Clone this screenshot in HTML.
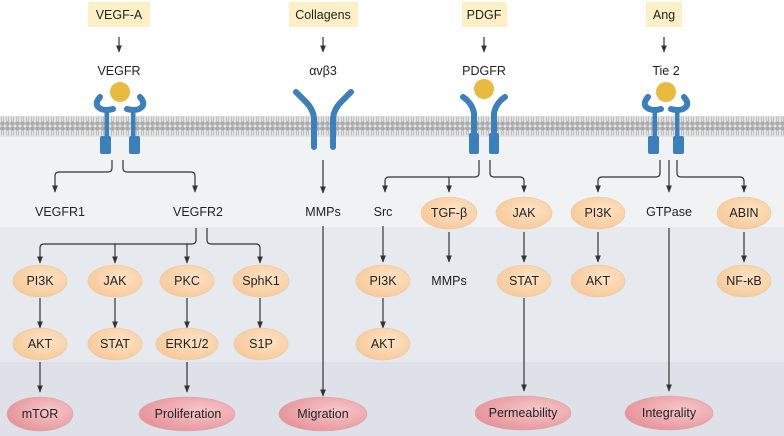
<!DOCTYPE html>
<html><head><meta charset="utf-8"><style>
html,body{margin:0;padding:0;background:#fff}
svg{display:block}
text{font-family:"Liberation Sans",sans-serif;font-size:12.5px;fill:#222;text-anchor:middle}
</style></head><body>
<svg width="784" height="436" viewBox="0 0 784 436" xmlns="http://www.w3.org/2000/svg">
<defs>
<marker id="a" viewBox="0 0 10 10" refX="9" refY="5" markerWidth="6" markerHeight="6" orient="auto"><path d="M0,1 L10,5 L0,9 z" fill="#333"/></marker>
<pattern id="mem" width="5" height="21" patternUnits="userSpaceOnUse">
<rect width="5" height="21" fill="#e4e4e4"/>
<circle cx="2.5" cy="2.5" r="2.3" fill="#a9a9a9"/>
<circle cx="2.5" cy="18.5" r="2.3" fill="#a9a9a9"/>
<path d="M1.5,5 L1.5,9.5 M3.5,5 L3.5,9.5 M1.5,11.5 L1.5,16 M3.5,11.5 L3.5,16" stroke="#b5b5b5" stroke-width="0.8"/>
</pattern>
<radialGradient id="og" cx="0.6" cy="0.4" r="0.7"><stop offset="0" stop-color="#fde3c6"/><stop offset="1" stop-color="#f7c795"/></radialGradient>
<radialGradient id="rg" cx="0.65" cy="0.4" r="0.7"><stop offset="0" stop-color="#f6c7cb"/><stop offset="1" stop-color="#e69298"/></radialGradient>
<g id="rc">
<path d="M-12,-24 Q-19,-16 -11,-12 Q-6,-10 1,-12" stroke="#3c7fbd" stroke-width="6" fill="none" stroke-linecap="round"/>
<rect x="-7.5" y="-12" width="4.5" height="28" fill="#3c7fbd"/>
<rect x="-12" y="15" width="11" height="18" rx="2" fill="#3c7fbd"/>
</g>
<g id="rp">
<path d="M-17,-24 Q-8,-18 -6,-8 L-6,12" stroke="#3c7fbd" stroke-width="6" fill="none" stroke-linecap="round"/>
<rect x="-8" y="-6" width="4" height="20" fill="#3c7fbd"/>
<rect x="-11" y="12" width="10" height="21" rx="2" fill="#3c7fbd"/>
</g>
</defs>
<rect x="0" y="0" width="784" height="136" fill="#fff"/>
<rect x="0" y="136" width="784" height="91" fill="#f1f2f4"/>
<rect x="0" y="227" width="784" height="135" fill="#e6e9ee"/>
<rect x="0" y="362" width="784" height="74" fill="#dee2e8"/>
<rect x="0" y="116" width="784" height="21" fill="url(#mem)"/>

<g fill="#fdf0c6">
<rect x="88" y="2" width="62" height="25"/>
<rect x="289" y="2" width="69" height="25"/>
<rect x="462" y="2" width="45" height="25"/>
<rect x="646" y="2" width="36" height="25"/>
</g>
<text x="119" y="19">VEGF-A</text><text x="323" y="19">Collagens</text><text x="484" y="19">PDGF</text><text x="664" y="19">Ang</text>
<g stroke="#333" stroke-width="1.2" fill="none" marker-end="url(#a)">
<path d="M119,37 V52"/><path d="M323,37 V52"/><path d="M484,37 V52"/><path d="M664,37 V52"/>
</g>
<text x="119" y="75">VEGFR</text><text x="323" y="75">αvβ3</text><text x="484" y="75">PDGFR</text><text x="666" y="75">Tie 2</text>

<!-- receptors -->
<circle cx="120" cy="92" r="10" fill="#e8bb3f"/>
<use href="#rc" transform="translate(112,121)"/>
<use href="#rc" transform="translate(128,121) scale(-1,1)"/>
<path d="M296,92 L306,102 Q313,109 314,118 L314,147" stroke="#3c7fbd" stroke-width="6" fill="none" stroke-linecap="round"/>
<path d="M351,92 L341,102 Q334,109 333,118 L333,147" stroke="#3c7fbd" stroke-width="6" fill="none" stroke-linecap="round"/>
<circle cx="484" cy="89" r="10" fill="#e8bb3f"/>
<use href="#rp" transform="translate(480,121)"/>
<use href="#rp" transform="translate(488,121) scale(-1,1)"/>
<circle cx="666" cy="92" r="10" fill="#e8bb3f"/>
<use href="#rc" transform="translate(660,121)"/>
<use href="#rc" transform="translate(672,121) scale(-1,1)"/>

<g stroke="#333" stroke-width="1.2" fill="none" marker-end="url(#a)">
<path d="M112,160 V168 Q112,172 108,172 H59 Q55,172 55,176 V192"/>
<path d="M123,160 V168 Q123,172 127,172 H191 Q195,172 195,176 V192"/>
<path d="M323,160 V193"/>
<path d="M196,228 V240 Q196,244 192,244 H44 Q40,244 40,248 V263"/>
<path d="M115,244 V263"/><path d="M187,244 V263"/>
<path d="M207,228 V240 Q207,244 211,244 H256 Q260,244 260,248 V263"/>
<path d="M40,298 V328"/><path d="M115,298 V328"/><path d="M187,298 V328"/><path d="M260,298 V328"/>
<path d="M40,362 V392"/><path d="M187,362 V392"/>
<path d="M323,226 V396"/>
<path d="M479,160 V173 Q479,177 475,177 H389 Q385,177 385,181 V192"/>
<path d="M449,177 V192"/>
<path d="M490,160 V173 Q490,177 494,177 H520 Q524,177 524,181 V192"/>
<path d="M383,226 V262"/><path d="M383,298 V328"/>
<path d="M449,232 V262"/><path d="M524,232 V262"/><path d="M524,298 V391"/>
<path d="M660,160 V173 Q660,177 656,177 H602 Q598,177 598,181 V192"/>
<path d="M669,160 V192"/>
<path d="M677,160 V173 Q677,177 681,177 H740 Q744,177 744,181 V192"/>
<path d="M598,232 V262"/><path d="M744,232 V262"/><path d="M669,228 V391"/>
</g>

<text x="60" y="216">VEGFR1</text><text x="198" y="216">VEGFR2</text>
<text x="323" y="216">MMPs</text><text x="383" y="216">Src</text>
<text x="669" y="216">GTPase</text><text x="449" y="285">MMPs</text>

<g fill="url(#og)" stroke="#e9c9a8" stroke-width="0.6">
<ellipse cx="40" cy="281" rx="27" ry="16"/><ellipse cx="115" cy="281" rx="27" ry="16"/>
<ellipse cx="187" cy="281" rx="27" ry="16"/><ellipse cx="261" cy="281" rx="28" ry="16"/>
<ellipse cx="40" cy="344" rx="27" ry="16"/><ellipse cx="115" cy="344" rx="27" ry="16"/>
<ellipse cx="187" cy="344" rx="31" ry="16"/><ellipse cx="261" cy="344" rx="27" ry="16"/>
<ellipse cx="383" cy="281" rx="27" ry="16"/><ellipse cx="383" cy="344" rx="27" ry="16"/>
<ellipse cx="449" cy="213" rx="28" ry="16"/><ellipse cx="524" cy="213" rx="28" ry="16"/>
<ellipse cx="524" cy="281" rx="27" ry="16"/>
<ellipse cx="598" cy="213" rx="27" ry="16"/><ellipse cx="598" cy="281" rx="27" ry="16"/>
<ellipse cx="744" cy="213" rx="27" ry="16"/><ellipse cx="744" cy="281" rx="27" ry="16"/>
</g>
<text x="40" y="285">PI3K</text><text x="115" y="285">JAK</text><text x="187" y="285">PKC</text><text x="261" y="285">SphK1</text>
<text x="40" y="348">AKT</text><text x="115" y="348">STAT</text><text x="187" y="348">ERK1/2</text><text x="261" y="348">S1P</text>
<text x="383" y="285">PI3K</text><text x="383" y="348">AKT</text>
<text x="449" y="217">TGF-β</text><text x="524" y="217">JAK</text><text x="524" y="285">STAT</text>
<text x="598" y="217">PI3K</text><text x="598" y="285">AKT</text>
<text x="744" y="217">ABIN</text><text x="744" y="285">NF-κB</text>

<g fill="url(#rg)" stroke="#d9a3a7" stroke-width="0.6">
<ellipse cx="40" cy="414" rx="33" ry="17"/><ellipse cx="187" cy="414" rx="48" ry="17"/>
<ellipse cx="323" cy="414" rx="44" ry="17"/><ellipse cx="523" cy="413" rx="48" ry="17"/>
<ellipse cx="669" cy="413" rx="44" ry="17"/>
</g>
<text x="40" y="418">mTOR</text><text x="188" y="418">Proliferation</text><text x="323" y="418">Migration</text>
<text x="523" y="417">Permeability</text><text x="669" y="417">Integrality</text>
</svg>
</body></html>
